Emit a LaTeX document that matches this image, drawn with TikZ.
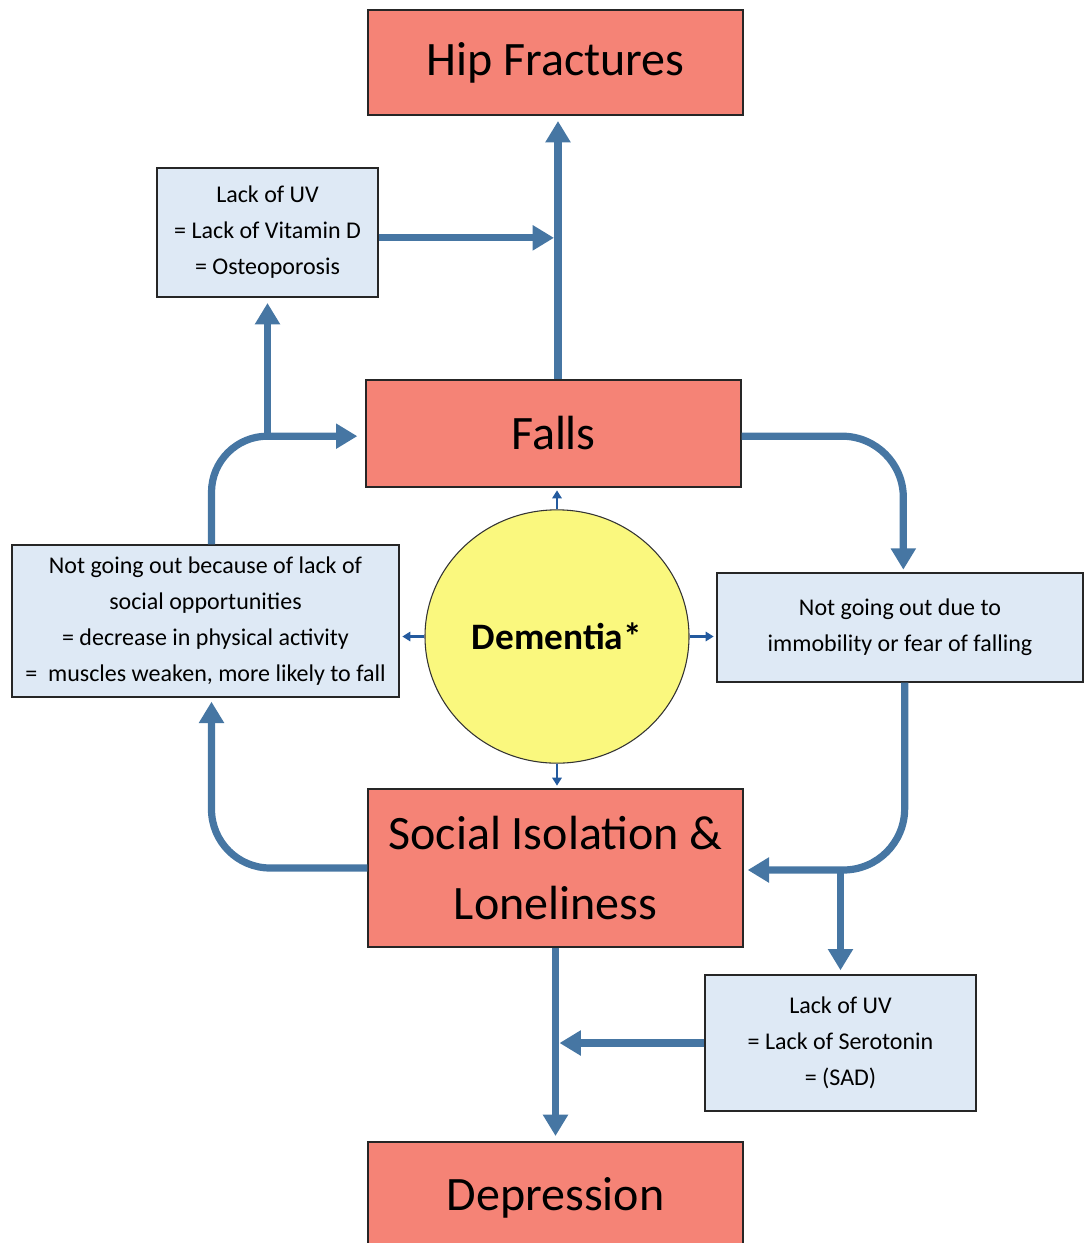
\documentclass[tikz,border=0pt]{standalone}
\usepackage{fontspec}
\setmainfont{Carlito}
\usetikzlibrary{arrows.meta,shapes.geometric}
\definecolor{boxred}{RGB}{245,131,118}
\definecolor{boxblue}{RGB}{222,233,245}
\definecolor{dementiayellow}{RGB}{250,248,126}
\definecolor{flowblue}{RGB}{70,118,163}
\definecolor{tipblue}{RGB}{35,90,158}
\tikzset{
	redbox/.style={draw=black!85, line width=1pt, fill=boxred, inner sep=0pt, align=center, font=\myfontbig},
	bluebox/.style={draw=black!85, line width=1pt, fill=boxblue, inner sep=0pt, align=center, font=\myfontsmall},
	flow/.style={draw=flowblue, line width=5.4pt, -{Triangle[width=18pt,length=16pt]}},
	spark/.style={draw=tipblue, line width=1.6pt, -{Triangle[width=7pt,length=6pt]}}
}
\begin{document}
\begin{tikzpicture}[x=0.75pt,y=-0.75pt]
		\newcommand{\myfontbig}{\fontsize{36}{53}\selectfont}
		\newcommand{\myfontsmall}{\fontsize{18}{27}\selectfont}
		%Page frame
		\useasboundingbox (0,0) rectangle (1084,1243);
		%Centres of the boxes
		\coordinate (cHip) at (555.5,62.5);
		\coordinate (cVit) at (267.5,232.5);
		\coordinate (cFalls) at (553.5,433.5);
		\coordinate (cDem) at (557,636.5);
		\coordinate (cOut) at (205.5,621);
		\coordinate (cFear) at (900,627.5);
		\coordinate (cSocial) at (555.5,868);
		\coordinate (cSero) at (840.5,1043);
		\coordinate (cDep) at (555.5,1198);
		%The red outcome boxes
		\node [redbox, minimum width=281.25pt, minimum height=78.75pt] (hip) at (cHip) {Hip Fractures};
		\node [redbox, minimum width=281.25pt, minimum height=80.25pt] (falls) at (cFalls) {Falls};
		\node [redbox, minimum width=281.25pt, minimum height=118.5pt] (social) at (cSocial) {Social Isolation \&\\Loneliness};
		\node [redbox, minimum width=281.25pt, minimum height=84pt] (dep) at (cDep) {Depression};
		%The blue cause boxes
		\node [bluebox, minimum width=165.75pt, minimum height=96.75pt] (vit) at (cVit) {Lack of UV\\= Lack of Vitamin D\\= Osteoporosis};
		\node [bluebox, minimum width=290.25pt, minimum height=114pt] (out) at (cOut) {Not going out because of lack of\\social opportunities\\= decrease in physical activity\\=\ \ muscles weaken, more likely to fall};
		\node [bluebox, minimum width=274.5pt, minimum height=81.75pt] (fear) at (cFear) {Not going out due to\\immobility or fear of falling};
		\node [bluebox, minimum width=203.25pt, minimum height=102pt] (sero) at (cSero) {Lack of UV\\= Lack of Serotonin\\= (SAD)};
		%Dementia in the middle
		\node [ellipse, draw=black!80, line width=0.8pt, fill=dementiayellow, minimum width=198pt, minimum height=190pt, inner sep=0pt, font=\fontsize{28}{34}\selectfont\bfseries] (dem) at (cDem) {Dementia*};
		%Small arrows out of the circle
		\draw [spark, shorten >=2pt] (dem.north) -- (dem.north |- falls.south);
		\draw [spark, shorten >=2pt] (dem.south) -- (dem.south |- social.north);
		\draw [spark, shorten >=2pt] (dem.west) -- (dem.west -| out.east);
		\draw [spark, shorten >=2pt] (dem.east) -- (dem.east -| fear.west);
		%Falls up to hip fractures
		\coordinate (spine) at (558,238);
		\draw [flow, shorten >=4pt] (falls.north -| spine) -- (hip.south -| spine);
		\draw [flow, shorten >=3pt] ([yshift=-4pt]vit.east) -- ([yshift=-4pt]vit.east -| spine);
		%Left loop
		\draw [flow, rounded corners=42pt, shorten >=6pt] ([xshift=4.5pt]out.north) |- ([yshift=-2pt]falls.west);
		\draw [flow, shorten >=4pt] ([yshift=-2pt]vit.south |- falls.west) -- (vit.south);
		\draw [flow, rounded corners=44pt, shorten >=3pt] (social.west) -| ([xshift=4.5pt]out.south);
		%Right loop
		\draw [flow, rounded corners=46pt, shorten >=2pt] ([yshift=-2pt]falls.east) -| ([xshift=2.5pt]fear.north);
		\draw [flow, rounded corners=46pt, shorten >=3pt] ([xshift=3.5pt]fear.south) |- ([yshift=-1.5pt]social.east);
		\draw [flow, shorten >=3pt] ([yshift=-1.5pt]sero.north |- social.east) -- (sero.north);
		%Down to depression
		\draw [flow, shorten >=4pt] (social.south) -- (dep.north);
		\draw [flow, shorten >=3pt] (sero.west) -- (sero.west -| social.south);
\end{tikzpicture}
\end{document}
